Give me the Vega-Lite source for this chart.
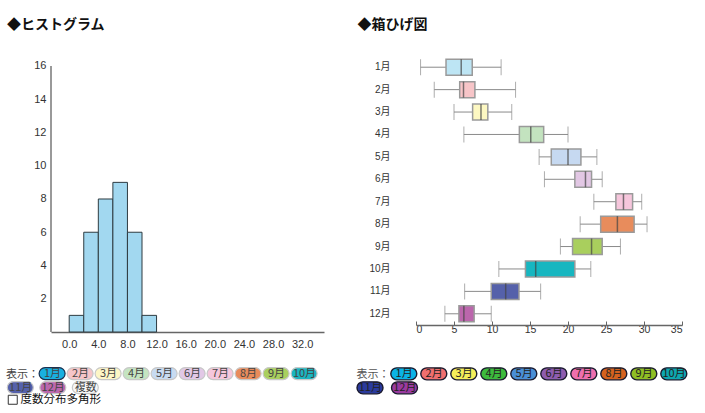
{
  "$schema": "https://vega.github.io/schema/vega-lite/v6.json",
  "background": "white",
  "padding": {"left": 7, "top": 18, "right": 5, "bottom": 5},
  "config": {
    "view": {"stroke": null},
    "font": "Liberation Sans",
    "axis": {"grid": false, "labelColor": "#333", "labelFontSize": 11, "domainColor": "#777", "tickColor": "#777", "labelFont": "Liberation Sans"},
    "title": {"font": "Noto Sans CJK JP", "fontSize": 14, "fontWeight": "bold", "color": "#111", "anchor": "start", "frame": "bounds"}
  },
  "datasets": {
    "hist": [
      {"bin_start": 0, "bin_end": 2, "count": 1},
      {"bin_start": 2, "bin_end": 4, "count": 6},
      {"bin_start": 4, "bin_end": 6, "count": 8},
      {"bin_start": 6, "bin_end": 8, "count": 9},
      {"bin_start": 8, "bin_end": 10, "count": 6},
      {"bin_start": 10, "bin_end": 12, "count": 1}
    ],
    "box": [
      {"month": "1月", "min": 0.6, "q1": 3.95, "median": 5.95, "q3": 7.4, "max": 11.2},
      {"month": "2月", "min": 2.4, "q1": 5.75, "median": 6.25, "q3": 7.75, "max": 13.1},
      {"month": "3月", "min": 5.0, "q1": 7.45, "median": 8.55, "q3": 9.45, "max": 12.6},
      {"month": "4月", "min": 6.3, "q1": 13.6, "median": 15.1, "q3": 16.8, "max": 20.0},
      {"month": "5月", "min": 16.2, "q1": 17.8, "median": 20.0, "q3": 21.7, "max": 23.8},
      {"month": "6月", "min": 16.9, "q1": 20.9, "median": 22.3, "q3": 23.1, "max": 24.5},
      {"month": "7月", "min": 23.4, "q1": 26.3, "median": 27.3, "q3": 28.5, "max": 29.7},
      {"month": "8月", "min": 21.6, "q1": 24.3, "median": 26.5, "q3": 28.7, "max": 30.4},
      {"month": "9月", "min": 19.0, "q1": 20.6, "median": 23.1, "q3": 24.5, "max": 26.9},
      {"month": "10月", "min": 10.9, "q1": 14.4, "median": 15.75, "q3": 20.9, "max": 23.0},
      {"month": "11月", "min": 6.4, "q1": 9.9, "median": 11.8, "q3": 13.55, "max": 16.4},
      {"month": "12月", "min": 3.8, "q1": 5.65, "median": 6.3, "q3": 7.65, "max": 9.9}
    ]
  },
  "spacing": 33,
  "resolve": {"scale": {"color": "independent", "shape": "independent", "fill": "independent", "x": "independent", "y": "independent"}, "legend": {"color": "independent", "shape": "independent", "fill": "independent"}},
  "hconcat": [
    {
      "title": {"text": "◆ヒストグラム", "offset": 24},
      "width": 273,
      "height": 276,
      "layer": [
        {
          "data": {"name": "hist"},
          "mark": {"type": "bar", "fill": "#a2d8f0", "stroke": "#2e3b40", "strokeWidth": 1},
          "encoding": {
            "x": {"field": "bin_start", "type": "quantitative", "scale": {"domain": [-2.5, 35], "nice": false, "zero": false},
              "axis": {"values": [0, 4, 8, 12, 16, 20, 24, 28, 32], "tickCount": 20, "format": ".1f", "title": null, "ticks": false, "labelPadding": 6, "domainWidth": 1.5, "domainColor": "#666", "labelOverlap": false}},
            "x2": {"field": "bin_end"},
            "y": {"field": "count", "type": "quantitative", "scale": {"domain": [0, 16.6], "nice": false},
              "axis": {"values": [2, 4, 6, 8, 10, 12, 14, 16], "tickCount": 20, "title": null, "ticks": false, "labelPadding": 5, "domain": false, "labelOverlap": false}},
            "y2": {"datum": 0}
          }
        },
        {
          "data": {"values": [{}]},
          "mark": {"type": "rule", "color": "#999999", "strokeWidth": 2},
          "encoding": {
            "x": {"datum": -2.5, "type": "quantitative"},
            "y": {"datum": 0, "type": "quantitative"},
            "y2": {"datum": 16}
          }
        },
        {
          "data": {"values": [{"btn": "1月"}]},
          "mark": {"type": "point", "filled": true, "opacity": 0},
          "encoding": {
            "color": {"field": "btn", "type": "nominal",
              "scale": {"domain": ["表示：", "1月", "2月", "3月", "4月", "5月", "6月", "7月", "8月", "9月", "10月"],
                "range": ["#ffffff", "#19b0e0", "#f6c5c8", "#fdf6c6", "#c5e4c1", "#c8dbf1", "#e2c8e6", "#f6c7dc", "#e88b5b", "#a9cf5e", "#1bb5c0"]},
              "legend": {"title": null, "orient": "none", "legendX": -36.4, "legendY": 310, "direction": "horizontal", "columns": 11,
                "columnPadding": -3,
                "symbolType": "M-1.077,-0.923H1.077A0.923,0.923,0,0,1,1.077,0.923H-1.077A0.923,0.923,0,0,1,-1.077,-0.923Z",
                "symbolSize": 169, "symbolStrokeWidth": 1.2, "symbolOpacity": 1,
                "labelOffset": -7.1, "labelAlign": "center", "labelFontSize": 11, "labelColor": "#444", "labelFont": "Noto Sans CJK JP",
                "encode": {
                  "symbols": {"update": {"opacity": {"signal": "datum.value === '表示：' ? 0 : 1"}, "stroke": {"signal": "datum.value === '1月' ? '#1b3050' : '#c8c8c8'"}}}
                }}
            }
          }
        },
        {
          "data": {"values": [{"btn2": "11月"}]},
          "mark": {"type": "point", "filled": true, "opacity": 0},
          "encoding": {
            "fill": {"field": "btn2", "type": "nominal",
              "scale": {"domain": ["11月", "12月", "複数"], "range": ["#5561ab", "#bb67ad", "#f6f6f6"]},
              "legend": {"title": null, "orient": "none", "legendX": -38.2, "legendY": 324, "direction": "horizontal", "columns": 3,
                "columnPadding": 1.5,
                "symbolType": "M-1.077,-0.923H1.077A0.923,0.923,0,0,1,1.077,0.923H-1.077A0.923,0.923,0,0,1,-1.077,-0.923Z",
                "symbolSize": 169, "symbolStrokeWidth": 1.2, "symbolOpacity": 1,
                "labelOffset": -7.1, "labelAlign": "center", "labelFontSize": 11, "labelColor": "#444", "labelFont": "Noto Sans CJK JP",
                "encode": {
                  "symbols": {"update": {"opacity": {"value": 1}, "stroke": {"value": "#c8c8c8"}}}
                }}
            }
          }
        },
        {
          "data": {"values": [{"opt": "度数分布多角形"}]},
          "mark": {"type": "point", "opacity": 0},
          "encoding": {
            "shape": {"field": "opt", "type": "nominal", "scale": {"domain": ["度数分布多角形"], "range": ["square"]},
              "legend": {"title": null, "orient": "none", "legendX": -44, "legendY": 338, "symbolSize": 81, "symbolFillColor": "white", "symbolStrokeColor": "#333", "symbolStrokeWidth": 1, "symbolOpacity": 1,
                "labelFontSize": 11.5, "labelColor": "#111", "labelFont": "Noto Sans CJK JP", "labelOffset": 2,
                "encode": {"symbols": {"update": {"opacity": {"value": 1}, "fill": {"value": "white"}, "stroke": {"value": "#333"}}}}}
            }
          }
        }
      ]
    },
    {
      "title": {"text": "◆箱ひげ図", "offset": 24, "dx": -5},
      "width": 266,
      "height": 269,
      "resolve": {"scale": {"fill": "independent"}, "legend": {"fill": "independent"}},
      "layer": [
        {
          "data": {"name": "box"},
          "encoding": {
            "y": {"field": "month", "type": "nominal", "sort": null,
              "scale": {"domain": ["1月", "2月", "3月", "4月", "5月", "6月", "7月", "8月", "9月", "10月", "11月", "12月"], "paddingInner": 0, "paddingOuter": 0},
              "axis": {"title": null, "domain": false, "ticks": false, "labelPadding": 26, "labelFontSize": 10, "labelColor": "#333", "labelFont": "Liberation Sans, Noto Sans CJK JP", "labelOverlap": false}}
          },
          "layer": [
            {
              "mark": {"type": "rule", "color": "#8a8a8a", "strokeWidth": 1},
              "encoding": {
                "x": {"field": "min", "type": "quantitative", "scale": {"domain": [0, 35], "nice": false},
                  "axis": {"values": [0, 5, 10, 15, 20, 25, 30, 35], "tickCount": 20, "title": null, "tickSize": -4, "labelPadding": 3, "domainColor": "#666", "tickColor": "#666", "domainWidth": 1.5, "labelFontSize": 10.5, "labelOverlap": false}},
                "x2": {"field": "max"}
              }
            },
            {
              "mark": {"type": "tick", "color": "#8a8a8a", "size": 16, "thickness": 1},
              "encoding": {"x": {"field": "min", "type": "quantitative"}}
            },
            {
              "mark": {"type": "tick", "color": "#8a8a8a", "size": 16, "thickness": 1},
              "encoding": {"x": {"field": "max", "type": "quantitative"}}
            },
            {
              "mark": {"type": "bar", "height": 16, "stroke": "#9a9a9a", "strokeWidth": 1.5},
              "encoding": {
                "x": {"field": "q1", "type": "quantitative"},
                "x2": {"field": "q3"},
                "fill": {"field": "month", "type": "nominal",
                  "scale": {"domain": ["1月", "2月", "3月", "4月", "5月", "6月", "7月", "8月", "9月", "10月", "11月", "12月"],
                    "range": ["#bde5f4", "#f7c5c8", "#fdf8c2", "#c3e3bf", "#c6d9f1", "#e2c7e4", "#f6c6dc", "#e88c5c", "#a9cf5d", "#17b6c0", "#5561aa", "#bb66ac"]},
                  "legend": null}
              }
            },
            {
              "mark": {"type": "tick", "color": "#444", "size": 16, "thickness": 1.5},
              "encoding": {"x": {"field": "median", "type": "quantitative"}}
            }
          ]
        },
        {
          "data": {"values": [{"btn": "1月"}]},
          "mark": {"type": "point", "filled": true, "opacity": 0},
          "encoding": {
            "color": {"field": "btn", "type": "nominal",
              "scale": {"domain": ["表示：", "1月", "2月", "3月", "4月", "5月", "6月", "7月", "8月", "9月", "10月"],
                "range": ["#ffffff", "#0bb3e6", "#f06f6f", "#f5ee5a", "#3dbb3d", "#4a8fd6", "#8e5cae", "#ee6fae", "#d5621f", "#8fbe24", "#0ea8b0"]},
              "legend": {"title": null, "orient": "none", "legendX": -50.7, "legendY": 310, "direction": "horizontal", "columns": 11,
                "columnPadding": -3,
                "symbolType": "M-1.077,-0.923H1.077A0.923,0.923,0,0,1,1.077,0.923H-1.077A0.923,0.923,0,0,1,-1.077,-0.923Z",
                "symbolSize": 169, "symbolStrokeWidth": 1.4, "symbolOpacity": 1,
                "labelOffset": -7.2, "labelAlign": "center", "labelFontSize": 11, "labelColor": "#222", "labelFont": "Noto Sans CJK JP",
                "encode": {
                  "symbols": {"update": {"opacity": {"signal": "datum.value === '表示：' ? 0 : 1"}, "stroke": {"value": "#1a1a2e"}}},
                  "labels": {"update": {"fill": {"signal": "datum.value === '表示：' ? '#555' : '#222'"}}}
                }}
            }
          }
        },
        {
          "data": {"values": [{"btn2": "11月"}]},
          "mark": {"type": "point", "filled": true, "opacity": 0},
          "encoding": {
            "fill": {"field": "btn2", "type": "nominal",
              "scale": {"domain": ["11月", "12月"], "range": ["#2a3a9c", "#9a3aa0"]},
              "legend": {"title": null, "orient": "none", "legendX": -53.5, "legendY": 324, "direction": "horizontal", "columns": 2,
                "columnPadding": 1.5,
                "symbolType": "M-1.077,-0.923H1.077A0.923,0.923,0,0,1,1.077,0.923H-1.077A0.923,0.923,0,0,1,-1.077,-0.923Z",
                "symbolSize": 169, "symbolStrokeWidth": 1.4, "symbolOpacity": 1,
                "labelOffset": -7.2, "labelAlign": "center", "labelFontSize": 11, "labelColor": "#222", "labelFont": "Noto Sans CJK JP",
                "encode": {
                  "symbols": {"update": {"opacity": {"value": 1}, "stroke": {"value": "#1a1a2e"}}}
                }}
            }
          }
        }
      ]
    }
  ]
}
